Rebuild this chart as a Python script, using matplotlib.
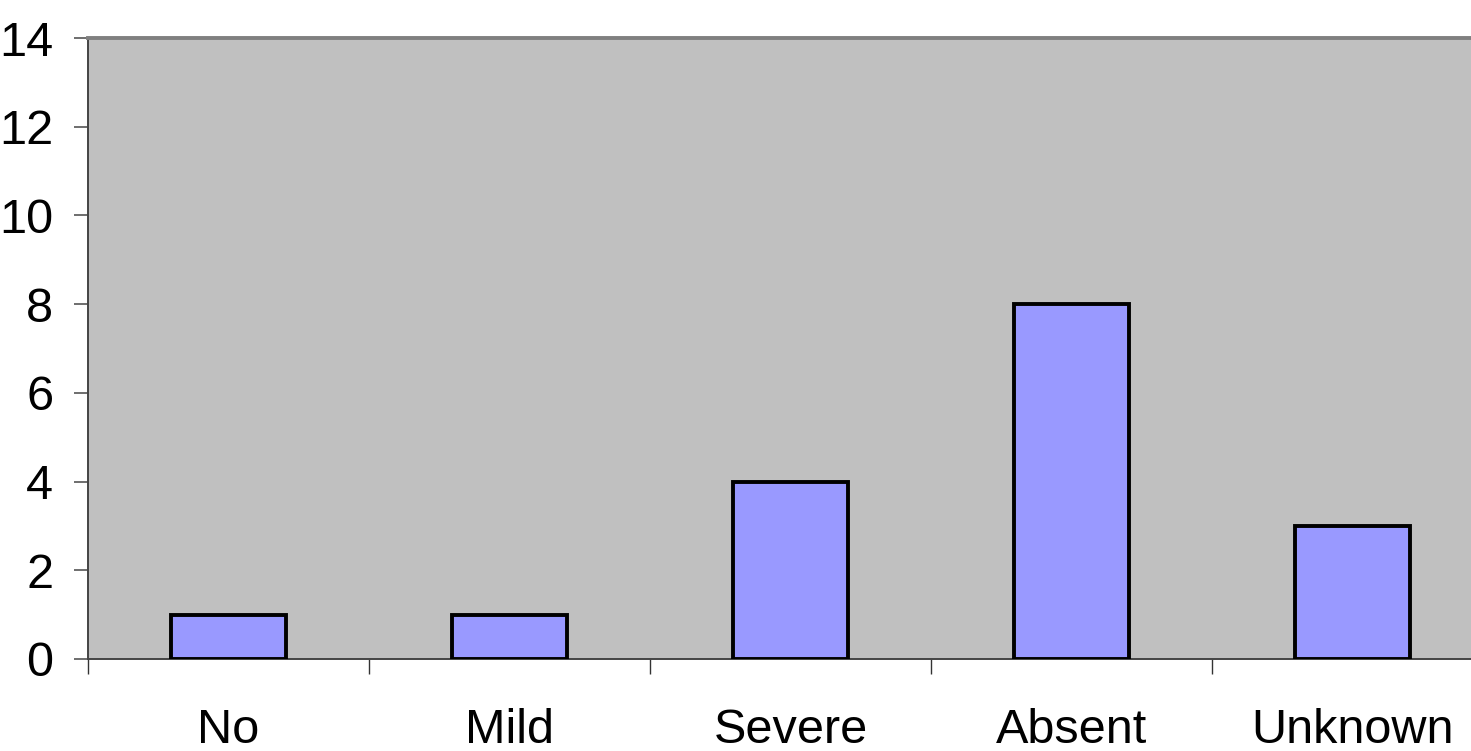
import matplotlib.pyplot as plt

categories = ['No', 'Mild', 'Severe', 'Absent', 'Unknown']
counts = [1, 1, 4, 8, 3]
y_ticks = [0, 2, 4, 6, 8, 10, 12, 14]

plt.rcParams['font.family'] = ['Liberation Sans Narrow', 'Liberation Sans', 'DejaVu Sans']

W, H = 1471, 751
fig = plt.figure(figsize=(W / 100, H / 100), dpi=100)
ax = fig.add_axes([88 / W, (H - 659) / H, 1 - 88 / W, (659 - 38) / H])
ax.set_facecolor('#C0C0C0')

x = list(range(len(categories)))
ax.bar(x, counts, width=0.41, color='#9999FF', edgecolor='black', linewidth=2.8, zorder=3)

ax.set_xlim(-0.5, -0.5 + (W - 88) / 281)
ax.set_ylim(0, 14)
ax.set_yticks(y_ticks)
ax.set_yticklabels([str(v) for v in y_ticks])

# category boundaries carry the ticks, labels sit in the middle
ax.set_xticks([i - 0.5 for i in range(len(categories))])
ax.set_xticklabels([])
ax.set_xticks(x, minor=True)
ax.set_xticklabels(categories, minor=True)
ax.tick_params(axis='x', which='minor', length=0, pad=35, labelsize=35)
ax.tick_params(axis='x', which='major', length=11, width=1, color='#333333', direction='out')
ax.tick_params(axis='y', length=10, width=1.2, color='#555555', pad=15, labelsize=35)

ax.spines['top'].set_color('#808080')
ax.spines['top'].set_linewidth(2.8)
ax.spines['right'].set_visible(False)
ax.spines['left'].set_color('#444444')
ax.spines['left'].set_linewidth(1.4)
ax.spines['bottom'].set_color('#444444')
ax.spines['bottom'].set_linewidth(1.4)

fig.savefig('out.png', dpi=100)
